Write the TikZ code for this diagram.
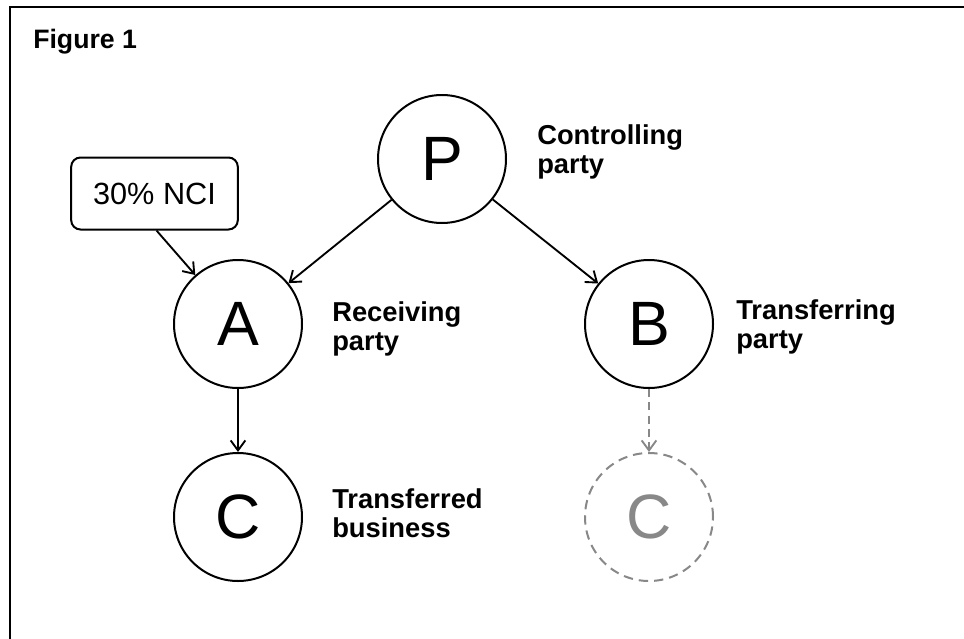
\documentclass[tikz,border=0pt]{standalone}
\usepackage{fontspec}
\setmainfont{Liberation Sans}
\usetikzlibrary{arrows.meta}
\definecolor{ghost}{HTML}{888888}
\tikzset{
  party/.style={circle,draw=black,line width=1.5pt,minimum size=96pt,inner sep=0pt,font=\fontsize{47}{47}\selectfont},
  ghostparty/.style={party,draw=ghost,text=ghost,dash pattern=on 7pt off 4.5pt},
  lbl/.style={anchor=base west,inner sep=0pt,align=left,font=\fontsize{20.5}{21.75}\selectfont\bfseries},
  conn/.style={line width=1.4pt,-{Straight Barb[length=7.5pt,width=11pt,line width=1.4pt]}},
  nci/.style={draw,line width=1.5pt,rounded corners=7pt,minimum width=125pt,minimum height=54pt,inner sep=0pt,font=\fontsize{23}{23}\selectfont}
}
\begin{document}
\begin{tikzpicture}[x=0.75pt,y=-0.75pt]
\useasboundingbox (0,0) rectangle (964,639);
\fill[white] (0,0) rectangle (964,639);
\coordinate (fr1) at (10,639);
\coordinate (fr2) at (10,7);
\coordinate (fr3) at (964,7);
\draw[line width=1.9pt] (fr1) -- (fr2) -- (fr3);
\node[anchor=base west,inner sep=0pt,font=\fontsize{20}{21}\selectfont\bfseries] (fig) at (33,48) {Figure 1};

\node[party] (P) at (442,159) {P};
\node[party] (A) at (238,324) {A};
\node[party] (B) at (649,324) {B};
\node[party] (C) at (238,517) {C};
\node[ghostparty] (C2) at (649,517) {C};
\node[nci] (N) at (154.5,193.5) {30\% NCI};

\node[lbl] (lP) at (537,173) {Controlling\\party};
\node[lbl] (lA) at (332,350) {Receiving\\party};
\node[lbl] (lB) at (736,348) {Transferring\\party};
\node[lbl] (lC) at (332,537) {Transferred\\business};

\draw[conn] (P) -- (A);
\draw[conn] (P) -- (B);
\draw[conn] (A) -- (C);
\draw[conn] (N.south) ++(2,0) -- (A);
\draw[conn,ghost,dash pattern=on 6pt off 4pt] (B) -- (C2);
\end{tikzpicture}
\end{document}
